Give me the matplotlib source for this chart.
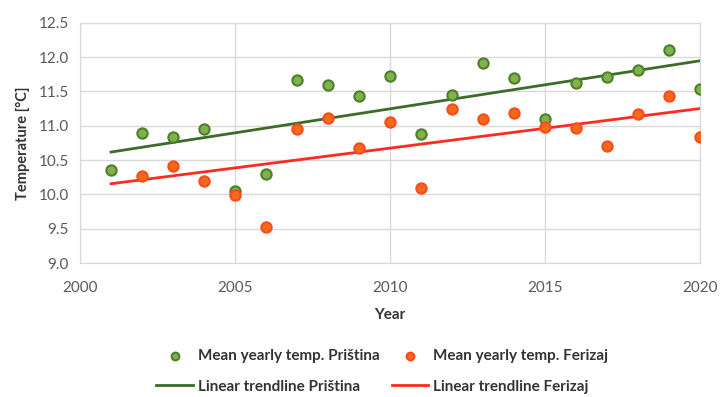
import numpy as np
import matplotlib.pyplot as plt

# valores
years_pr = np.arange(2001, 2021)
temp_pr = [10.35, 10.90, 10.84, 10.96, 10.05, 10.29, 11.67, 11.59, 11.43, 11.73,
           10.88, 11.45, 11.91, 11.69, 11.10, 11.63, 11.71, 11.81, 12.11, 11.54]
years_fe = np.arange(2002, 2021)
temp_fe = [10.27, 10.42, 10.19, 9.99, 9.52, 10.96, 11.12, 10.67, 11.05,
           10.10, 11.24, 11.10, 11.19, 10.98, 10.97, 10.71, 11.17, 11.43, 10.83]
x_ticks = [2000, 2005, 2010, 2015, 2020]
y_ticks = [9.0, 9.5, 10.0, 10.5, 11.0, 11.5, 12.0, 12.5]

plt.rcParams['font.family'] = ['Lato', 'DejaVu Sans']

fig = plt.figure(figsize=(7.21, 3.97), dpi=100)
ax = fig.add_axes([0.111, 0.3375, 0.86, 0.605])

# lineas de tendencia (ajuste lineal)
trend_x = np.array([2001, 2020])
p_pr = np.polyfit(years_pr, temp_pr, 1)
p_fe = np.polyfit(years_fe, temp_fe, 1)

sc_pr = ax.scatter(years_pr, temp_pr, s=55, color='#7fb24a', edgecolors='#4f7f2c',
                   linewidths=1.5, zorder=3, label='Mean yearly temp. Priština')
sc_fe = ax.scatter(years_fe, temp_fe, s=55, color='#f26b1d', edgecolors='#ff4a1a',
                   linewidths=1.5, zorder=4, label='Mean yearly temp. Ferizaj')
ln_pr, = ax.plot(trend_x, np.polyval(p_pr, trend_x), color='#3c6b2a', lw=2, zorder=2,
                 label='Linear trendline Priština')
ln_fe, = ax.plot(trend_x, np.polyval(p_fe, trend_x), color='#ff2a20', lw=2, zorder=2,
                 label='Linear trendline Ferizaj')

ax.set_xlim(2000, 2020)
ax.set_ylim(9.0, 12.5)
ax.set_xticks(x_ticks)
ax.set_yticks(y_ticks)
ax.set_yticklabels(['%.1f' % v for v in y_ticks])
ax.grid(True, color='#d9d9d9', lw=1)
ax.set_axisbelow(True)
for s in ax.spines.values():
    s.set_color('#d9d9d9')
ax.tick_params(length=0, labelsize=11, colors='#595959')
ax.tick_params(axis='x', pad=13)
ax.tick_params(axis='y', pad=8)
ax.set_xlabel('Year', fontsize=11, fontweight='bold', color='#333333', labelpad=9)
ax.set_ylabel('Temperature [°C]', fontsize=10.5, fontweight='bold', color='#333333', labelpad=6)

fig.legend(handles=[sc_pr, ln_pr, sc_fe, ln_fe], ncol=2, loc='center',
           bbox_to_anchor=(0.53, 0.065), frameon=False,
           prop={'weight': 'bold', 'size': 11}, labelcolor='#333333',
           markerscale=0.75, handlelength=2.4, handletextpad=0.3,
           columnspacing=0.8, labelspacing=1.1)

fig.savefig('out.png', dpi=100)
